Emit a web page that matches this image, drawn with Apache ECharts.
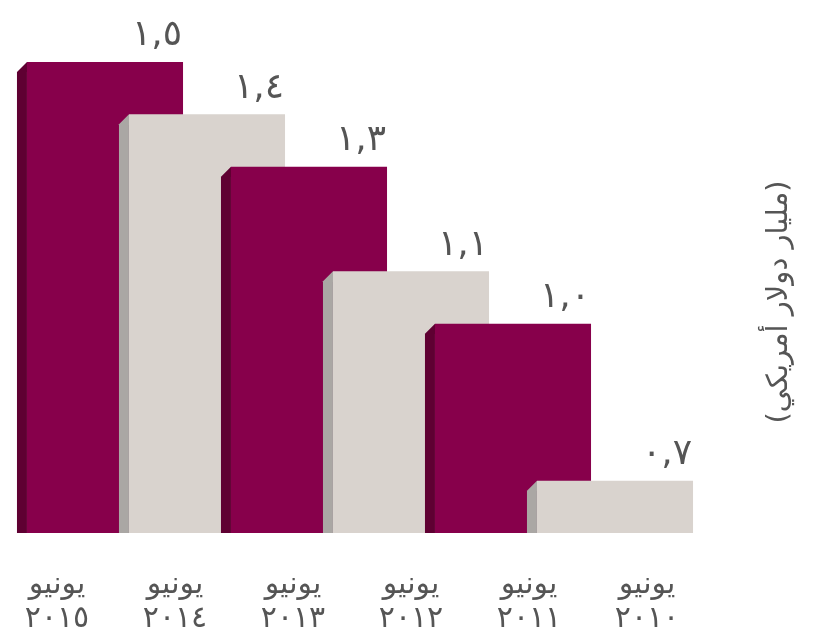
<!DOCTYPE html>
<html>
<head>
<meta charset="utf-8">
<script src="https://cdn.jsdelivr.net/npm/echarts@6/dist/echarts.min.js"></script>
<style>
  html, body { margin: 0; padding: 0; background: #ffffff; }
  #chart { width: 825px; height: 636px; }
</style>
</head>
<body>
<div id="chart"></div>
<script>
// ---- data ----
const categories = ['يونيو ٢٠١٥', 'يونيو ٢٠١٤', 'يونيو ٢٠١٣', 'يونيو ٢٠١٢', 'يونيو ٢٠١١', 'يونيو ٢٠١٠'];
const values = [1.5, 1.4, 1.3, 1.1, 1.0, 0.7];
const axisTitle = '(مليار دولار أمريكي)';

// ---- helpers ----
const AR_DIGITS = ['٠','١','٢','٣','٤','٥','٦','٧','٨','٩'];
function toArabicNumber(v) {
  return v.toFixed(1).replace(/[0-9]/g, d => AR_DIGITS[+d]).replace('.', ',');
}

const Y_MIN = 0.6;
const Y_MAX = 1.5;
const FRONT = ['#87004B', '#D9D3CE'];
const SIDE = ['#5F0032', '#AAA7A4'];
const FONT = 'DejaVu Sans';

const chart = echarts.init(document.getElementById('chart'));

function renderItem(params, api) {
  const i = api.value(0);
  const v = api.value(1);
  const top = api.coord([i, v]);
  const base = api.coord([i, Y_MIN]);
  const band = api.size([1, 0])[0];
  const w = band * 1.53;
  const x0 = top[0] - w / 2;
  const x1 = top[0] + w / 2;
  const d = 10;
  const c = i % 2;
  return {
    type: 'group',
    children: [
      {
        type: 'polygon',
        shape: { points: [[x0 - d, top[1] + d], [x0, top[1]], [x0, base[1]], [x0 - d, base[1]]] },
        style: { fill: SIDE[c] }
      },
      {
        type: 'rect',
        shape: { x: x0, y: top[1], width: w, height: base[1] - top[1] },
        style: { fill: FRONT[c] }
      },
      {
        type: 'text',
        x: x1 - 1,
        y: top[1] - 8,
        style: {
          text: toArabicNumber(v),
          align: 'right',
          verticalAlign: 'bottom',
          fill: '#555555',
          fontSize: 36,
          fontFamily: FONT
        }
      }
    ]
  };
}

const option = {
  backgroundColor: '#ffffff',
  animation: false,
  grid: [
    { left: 54, right: 159, top: 62, bottom: 103 },
    { left: 57, right: 178, top: 540, bottom: 95 }
  ],
  xAxis: [
    { gridIndex: 0, type: 'category', data: categories, boundaryGap: true, show: false },
    {
      gridIndex: 1, type: 'category', data: categories, boundaryGap: false,
      axisLine: { show: false }, axisTick: { show: false },
      axisLabel: {
        interval: 0,
        margin: 27,
        color: '#555555',
        fontSize: 30,
        lineHeight: 34,
        fontFamily: FONT,
        formatter: s => s.split(' ').join('\n')
      }
    }
  ],
  yAxis: [
    { gridIndex: 0, type: 'value', min: Y_MIN, max: Y_MAX, show: false },
    { gridIndex: 1, type: 'value', show: false }
  ],
  series: [
    {
      type: 'custom',
      xAxisIndex: 0,
      yAxisIndex: 0,
      renderItem: renderItem,
      encode: { x: 0, y: 1 },
      data: values.map((v, i) => [i, v])
    }
  ],
  graphic: [
    {
      type: 'text',
      x: 779,
      y: 302,
      rotation: Math.PI / 2,
      style: {
        text: axisTitle,
        align: 'center',
        verticalAlign: 'middle',
        fill: '#555555',
        fontSize: 29,
        fontFamily: FONT
      }
    }
  ]
};

chart.setOption(option);
</script>
</body>
</html>
